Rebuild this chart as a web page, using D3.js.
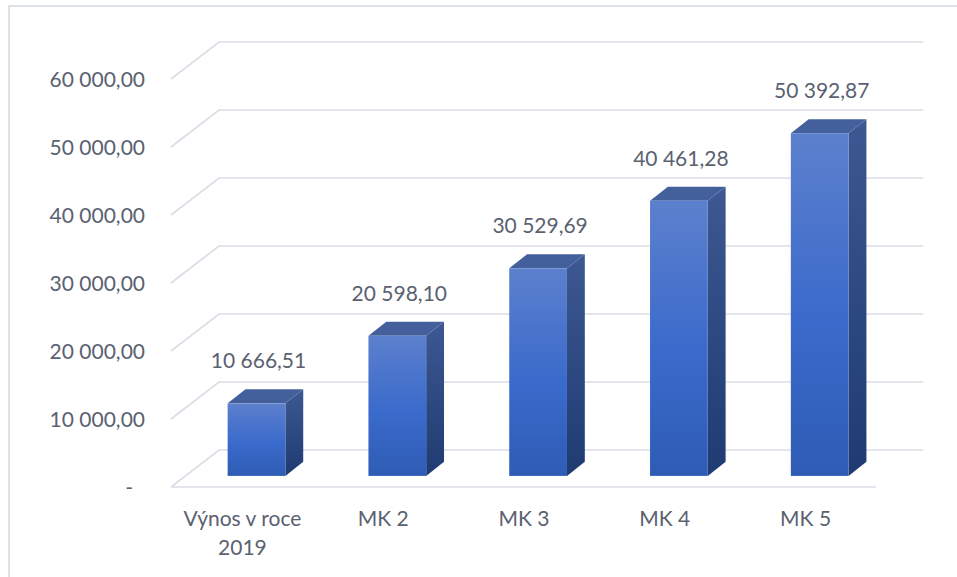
<!DOCTYPE html>
<html>
<head>
<meta charset="utf-8">
<script src="https://cdn.jsdelivr.net/npm/d3@7"></script>
<style>
  body { margin: 0; background: #fff; }
  svg { display: block; }
  text { font-family: Lato, "Open Sans", sans-serif; fill: #5a6170; }
</style>
</head>
<body>
<div id="chart"></div>
<script>
// chart data
const categories = ["Výnos v roce 2019", "MK 2", "MK 3", "MK 4", "MK 5"];
const values = [10666.51, 20598.10, 30529.69, 40461.28, 50392.87];
const tickValues = [0, 10000, 20000, 30000, 40000, 50000, 60000];

render();

function render() {
    const width = 957, height = 577;

    const svg = d3.select('#chart').append('svg')
        .attr('width', width)
        .attr('height', height);

    // front plane of the plot + depth of the 3D floor
    const plot = { left: 172, right: 876, top: 79, bottom: 487 };
    const depth = { dx: 47, dy: -37 };

    const y = d3.scaleLinear()
        .domain([0, 60000])
        .range([plot.bottom, plot.top]);

    const x = d3.scaleBand()
        .domain(categories)
        .range([plot.left, plot.right]);

    const locale = d3.formatLocale({ decimal: ",", thousands: "\u00a0", grouping: [3], currency: ["", ""] });
    const fmt = locale.format(",.2f");

    // outer frame (only top + left visible)
    svg.append('line')
        .attr('x1', 8).attr('y1', 6).attr('x2', width).attr('y2', 6)
        .attr('stroke', '#dde1ea').attr('stroke-width', 2);
    svg.append('line')
        .attr('x1', 9).attr('y1', 6).attr('x2', 9).attr('y2', height)
        .attr('stroke', '#dde1ea').attr('stroke-width', 2);

    // gridlines: side wall diagonal + back wall horizontal
    const grid = svg.append('g')
        .attr('stroke', '#d9dde6')
        .attr('stroke-width', 1.6)
        .attr('fill', 'none');

    grid.selectAll('path')
        .data(tickValues)
        .join('path')
        .attr('d', d => {
            const yf = y(d);
            return `M${plot.left - 1},${yf} L${plot.left + depth.dx},${yf + depth.dy} L${plot.right + depth.dx},${yf + depth.dy}`;
        });

    // floor front edge
    grid.append('line')
        .attr('x1', plot.left).attr('y1', y(0))
        .attr('x2', plot.right).attr('y2', y(0));

    // y tick labels
    svg.append('g').selectAll('text')
        .data(tickValues)
        .join('text')
        .attr('x', d => d === 0 ? 133 : 145)
        .attr('y', d => y(d) + 8)
        .attr('text-anchor', 'end')
        .style('font-size', '21px')
        .text(d => d === 0 ? "-" : fmt(d));

    // gradients
    const defs = svg.append('defs');
    const gFront = defs.append('linearGradient')
        .attr('id', 'front').attr('x1', 0).attr('y1', 0).attr('x2', 0).attr('y2', 1);
    gFront.append('stop').attr('offset', '0%').attr('stop-color', '#5c80cd');
    gFront.append('stop').attr('offset', '55%').attr('stop-color', '#3a6acb');
    gFront.append('stop').attr('offset', '100%').attr('stop-color', '#2e5cb5');

    const gSide = defs.append('linearGradient')
        .attr('id', 'side').attr('x1', 0).attr('y1', 0).attr('x2', 0).attr('y2', 1);
    gSide.append('stop').attr('offset', '0%').attr('stop-color', '#3d5892');
    gSide.append('stop').attr('offset', '100%').attr('stop-color', '#1f3b72');

    // bars
    const barW = x.bandwidth() * 0.41;
    const front = { dx: depth.dx * 0.3, dy: depth.dy * 0.3 };
    const bd = { dx: depth.dx * 0.38, dy: depth.dy * 0.38 };

    const bars = svg.append('g').selectAll('g')
        .data(values.map((v, i) => ({ cat: categories[i], value: v })))
        .join('g');

    bars.each(function (d) {
        const g = d3.select(this);
        const x0 = x(d.cat) + x.bandwidth() / 2 - barW / 2 + front.dx;
        const x1 = x0 + barW;
        const yb = y(0) + front.dy;
        const yt = y(d.value) + front.dy;

        // side
        g.append('path')
            .attr('d', `M${x1},${yt} L${x1 + bd.dx},${yt + bd.dy} L${x1 + bd.dx},${yb + bd.dy} L${x1},${yb} Z`)
            .attr('fill', 'url(#side)');
        // top
        g.append('path')
            .attr('d', `M${x0},${yt} L${x0 + bd.dx},${yt + bd.dy} L${x1 + bd.dx},${yt + bd.dy} L${x1},${yt} Z`)
            .attr('fill', '#43609d');
        // front
        g.append('rect')
            .attr('x', x0).attr('y', yt)
            .attr('width', barW).attr('height', yb - yt)
            .attr('fill', 'url(#front)');

        // value label
        g.append('text')
            .attr('x', (x0 + x1) / 2 + 2)
            .attr('y', yt - 35)
            .attr('text-anchor', 'middle')
            .style('font-size', '21px')
            .text(fmt(d.value));
    });

    // category labels (wrapped like excel)
    const labels = svg.append('g').selectAll('text')
        .data(categories)
        .join('text')
        .attr('x', d => x(d) + x.bandwidth() / 2)
        .attr('y', 526)
        .attr('text-anchor', 'middle')
        .style('font-size', '21px');

    labels.each(function (d) {
        const t = d3.select(this);
        const lines = d === "Výnos v roce 2019" ? ["Výnos v roce", "2019"] : [d];
        lines.forEach((l, i) => {
            t.append('tspan')
                .attr('x', t.attr('x'))
                .attr('dy', i === 0 ? 0 : 29)
                .text(l);
        });
    });
}
</script>
</body>
</html>
